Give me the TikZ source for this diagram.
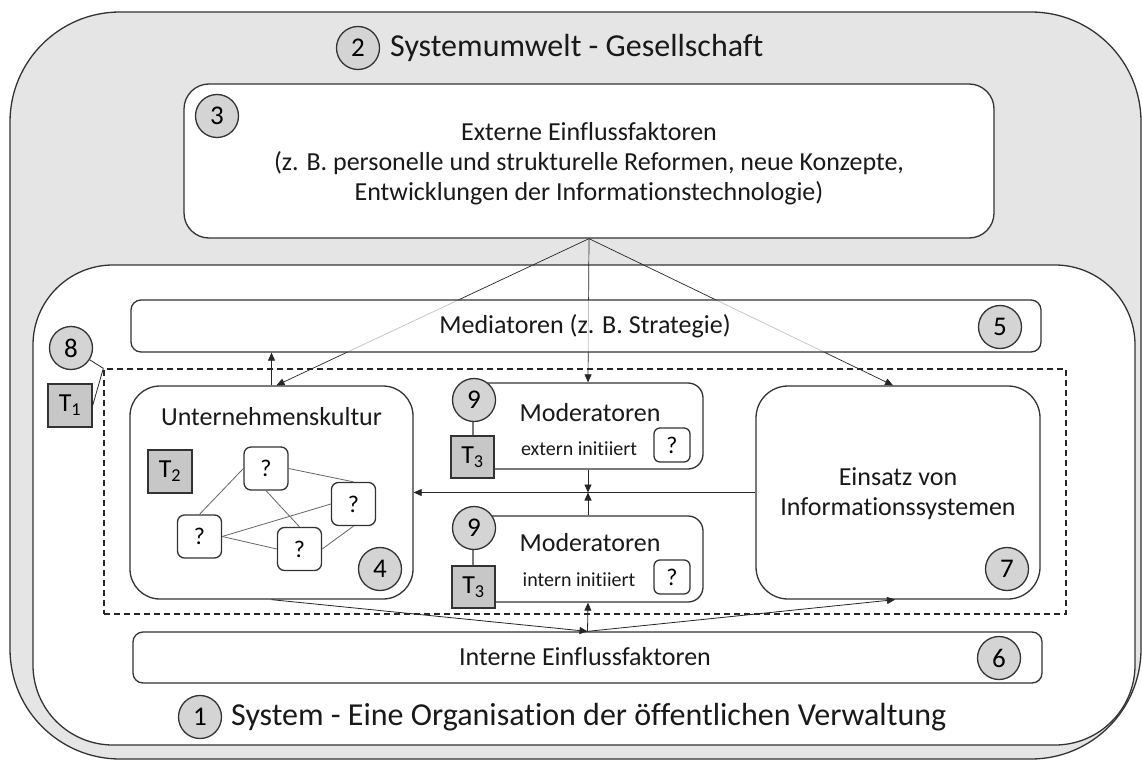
\documentclass[tikz,border=0pt]{standalone}
\usepackage{fontspec}
\setmainfont{Carlito}[Ligatures=NoCommon]
\usetikzlibrary{arrows.meta,calc}
\begin{document}
\begin{tikzpicture}[x=1pt,y=-1pt,
  box/.style={draw=black!80, line width=1.3pt, fill=white, inner sep=0pt},
  num/.style={circle, draw=black!80, line width=1.3pt, fill=black!17, minimum size=43pt, inner sep=0pt, font=\fontsize{27}{29}\selectfont},
  tbox/.style={draw=black!80, line width=1.3pt, fill=black!22, minimum width=44pt, minimum height=43pt, inner sep=0pt, font=\fontsize{26}{28}\selectfont},
  qbox/.style={box, rounded corners=7pt, minimum width=44pt, minimum height=43pt, font=\fontsize{24}{26}\selectfont},
  sqbox/.style={box, rounded corners=6pt, minimum width=36pt, minimum height=34pt, font=\fontsize{24}{26}\selectfont},
  conn/.style={draw=black!85, line width=0.8pt},
  arr/.style={conn, -{Triangle[length=8pt,width=7pt]}},
  fan/.style={draw=black!85, line width=0.7pt, -{Triangle[length=8pt,width=7pt]}},
  gline/.style={draw=black!60, line width=0.8pt},
  txt/.style={inner sep=0pt, text=black!90, font=\fontsize{26}{30}\selectfont},
  title/.style={inner sep=0pt, text=black!90, font=\fontsize{32}{36}\selectfont},
  small/.style={inner sep=0pt, text=black!90, font=\fontsize{20}{24}\selectfont},
]
\useasboundingbox (0,0) rectangle (1142,762);

% containers
\node[box, fill=black!10, rounded corners=110pt, minimum width=1131pt, minimum height=747pt] (umwelt) at (575.5,385.5) {};
\node[box, rounded corners=80pt, minimum width=1102pt, minimum height=480pt] (system) at (584,505) {};
\node[box, rounded corners=25pt, minimum width=810pt, minimum height=154pt] (ext) at (589,161) {};
\node[draw=black!85, line width=1.3pt, dash pattern=on 6pt off 4pt, minimum width=962pt, minimum height=245pt, inner sep=0pt] (dash) at (585,491.5) {};
\coordinate (dcorner) at (dash.north west);

% main boxes
\node[box, rounded corners=30pt, minimum width=283pt, minimum height=213pt] (uk) at (271.5,492.5) {};
\node[box, rounded corners=32pt, minimum width=284pt, minimum height=213pt] (ein) at (898,492.5) {};
\node[box, rounded corners=15pt, minimum width=230pt, minimum height=86pt] (modE) at (588,426) {};
\node[box, rounded corners=15pt, minimum width=230pt, minimum height=86pt] (modI) at (588,559) {};
\node[box, rounded corners=10pt, minimum width=909pt, minimum height=51pt] (int) at (587.5,657.5) {};

% fan from external factors
\draw[fan] (ext.south) -- ($(uk.north)+(5,0)$);
\draw[fan] (ext.south) -- (modE.north);
\draw[fan] (ext.south) -- ($(ein.north)+(-5,0)$);

\node[box, fill opacity=0.72, text opacity=1, draw opacity=1, rounded corners=10pt, minimum width=910pt, minimum height=52pt] (med) at (586,326) {};

% texts
\node[title, anchor=west] (t2) at (390,48) {Systemumwelt - Gesellschaft};
\node[title, anchor=west] (t1) at (231,717) {System - Eine Organisation der öffentlichen Verwaltung};
\node[txt, align=center] (extt) at (589,164) {Externe Einflussfaktoren\\(z. B. personelle und strukturelle Reformen, neue Konzepte,\\Entwicklungen der Informationstechnologie)};
\node[txt] (medt) at (585,326) {Mediatoren (z. B. Strategie)};
\node[txt] (ukt) at (271.5,417) {Unternehmenskultur};
\node[txt] (modEt) at (590,413) {Moderatoren};
\node[small] (modEs) at (579,449) {extern initiiert};
\node[txt] (modIt) at (590,543) {Moderatoren};
\node[small] (modIs) at (579,580) {intern initiiert};
\node[txt, align=center] (eint) at (898,493.5) {Einsatz von\\Informationssystemen};
\node[txt] (intt) at (585,657) {Interne Einflussfaktoren};

% number circles
\node[num] (c1) at (200,717) {1};
\node[num] (c2) at (358,48) {2};
\node[num] (c3) at (217,116) {3};
\node[num] (c4) at (380,569) {4};
\node[num] (c5) at (1000,327) {5};
\node[num] (c6) at (999,658) {6};
\node[num] (c7) at (1007,569) {7};
\node[num] (c8) at (71,348) {8};
\node[num] (c9a) at (474,400) {9};
\node[num] (c9b) at (474,528) {9};

% T boxes
\node[tbox] (T1) at (70,405.5) {T\textsubscript{1}};
\node[tbox] (T2) at (170,471.5) {T\textsubscript{2}};
\node[tbox, minimum width=43pt, minimum height=42pt] (T3a) at (472.5,457) {T\textsubscript{3}};
\node[tbox, minimum width=43pt, minimum height=42pt] (T3b) at (473.5,587) {T\textsubscript{3}};
\draw[conn] (c8) -- (dcorner);
\draw[conn] (T1.east) -- (dcorner);

% question boxes
\node[qbox] (qa) at (266,468.5) {?};
\node[qbox] (qb) at (353.5,504) {?};
\node[qbox] (qc) at (199.5,536.5) {?};
\node[qbox] (qd) at (299.5,549) {?};
\node[sqbox] (qe) at (672,445) {?};
\node[sqbox] (qi) at (672,577) {?};
\draw[gline] (qa.west) -- (qc.north);
\draw[gline] (qa.east) -- (qb.north);
\draw[gline] (qa.south) -- (qd.north);
\draw[gline] (qc.east) -- (qb.west);
\draw[gline] (qc.east) -- (qd.west);
\draw[gline] (qd.east) -- (qb.south);

% internal arrows
\draw[arr] (uk.north) -- (uk.north |- med.south);
\draw[arr] (ein.west) -- (uk.east);
\coordinate (hline) at (modE.south |- ein.west);
\draw[arr] (modE.south) -- (hline);
\draw[arr] (modI.north) -- (hline);
\draw[arr] (uk.south) -- (int.north);
\draw[arr] (int.north) -- ($(ein.south)+(-3,0)$);
\draw[arr] (int.north) -- (modI.south);
\end{tikzpicture}
\end{document}
